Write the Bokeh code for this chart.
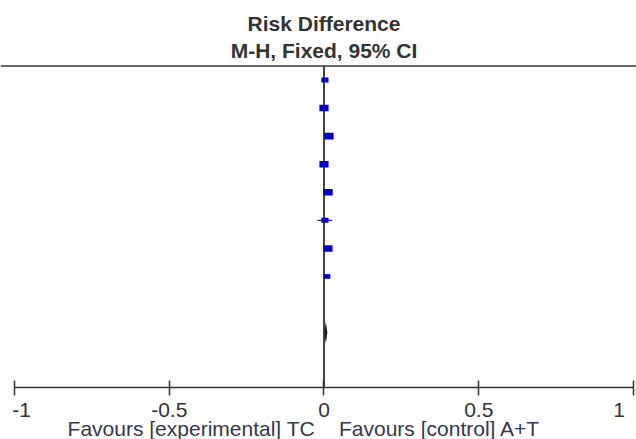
from bokeh.plotting import figure
from bokeh.models import Range1d, LinearAxis, FixedTicker, Label, Span, ColumnDataSource
from bokeh.embed import file_html
from bokeh.resources import INLINE
import math

# ---- data ----
study_rows = [1, 2, 3, 4, 5, 6, 7, 8]
risk_diff = [0.003, 0.000, 0.016, 0.000, 0.013, 0.003, 0.013, 0.010]
ci_low = [-0.006, -0.012, 0.004, -0.012, 0.002, -0.021, 0.001, 0.002]
ci_high = [0.012, 0.012, 0.028, 0.012, 0.024, 0.027, 0.025, 0.018]
weights = [9.0, 14.5, 15.5, 14.5, 15.5, 9.0, 14.5, 7.5]

total_row = 10
total_rd = 0.006
total_low = 0.000
total_high = 0.011

tick_values = [-1, -0.5, 0, 0.5, 1]
tick_labels = ["-1", "-0.5", "0", "0.5", "1"]

title_lines = ["Risk Difference", "M-H, Fixed, 95% CI"]
favours_left = "Favours [experimental] TC"
favours_right = "Favours [control] A+T"

FONT = "Liberation Sans"
TEXT_COLOR = "#333333"

AXIS_ROW = 11.956   # row coordinate where the x axis is drawn
HEADER_ROW = 0.5    # row coordinate of the header rule

p = figure(width=636, height=439,
           x_range=Range1d(-1.04523, 1.00969),
           y_range=Range1d(13.808, -1.831),
           x_axis_type=None, y_axis_type=None,
           output_backend="svg", toolbar_location=None,
           min_border=0)
p.outline_line_color = None
p.xgrid.visible = False
p.ygrid.visible = False
p.background_fill_color = "white"
p.border_fill_color = "white"

# x axis, drawn at a fixed row inside the frame
ax = LinearAxis(ticker=FixedTicker(ticks=tick_values), bounds=(-1, 1),
                fixed_location=AXIS_ROW)
ax.axis_line_color = "#333333"
ax.axis_line_width = 1.5
ax.major_tick_line_color = "#333333"
ax.major_tick_line_width = 1.5
ax.major_tick_in = 7
ax.major_tick_out = 8
ax.minor_tick_line_color = None
ax.major_label_standoff = 2
ax.major_label_text_font = FONT
ax.major_label_text_font_size = "21px"
ax.major_label_text_color = TEXT_COLOR
overrides = {v: l for v, l in zip(tick_values, tick_labels)}
overrides[tick_values[0]] = "\u00a0\u00a0" + tick_labels[0]
overrides[tick_values[-1]] = tick_labels[-1] + "\u00a0\u00a0"
ax.major_label_overrides = overrides
p.add_layout(ax, "below")

# header rule and zero line
p.add_layout(Span(location=HEADER_ROW, dimension="width", line_color="#333333", line_width=1.5))
p.segment(x0=[0], y0=[HEADER_ROW], x1=[0], y1=[AXIS_ROW], line_color="#444444", line_width=2)

# confidence intervals and weighted boxes
src = ColumnDataSource(dict(
    y=study_rows, rd=risk_diff, lo=ci_low, hi=ci_high,
    w=[2.4 * math.sqrt(v) for v in weights],
    h=[1.7 * math.sqrt(v) for v in weights],
))
p.segment(x0="lo", y0="y", x1="hi", y1="y", source=src, line_color="black", line_width=1)
p.rect(x="rd", y="y", width="w", height="h", width_units="screen", height_units="screen",
       source=src, fill_color="#0000CC", line_color=None)

# pooled diamond
dh = 0.39
p.patch(x=[total_low, total_rd, total_high, total_rd],
        y=[total_row, total_row - dh, total_row, total_row + dh],
        fill_color="#222222", line_color=None)

# header titles
for text, yy in zip(title_lines, [-1.012, -0.05]):
    p.add_layout(Label(x=0, y=yy, text=text, text_align="center", text_baseline="middle",
                       text_font=FONT, text_font_size="21px", text_font_style="bold",
                       text_color=TEXT_COLOR))

# favours labels
p.add_layout(Label(x=0, y=13.42, x_offset=-9, text=favours_left, text_align="right",
                   text_baseline="middle", text_font=FONT, text_font_size="21px",
                   text_color="#2f3a4f"))
p.add_layout(Label(x=0, y=13.42, x_offset=15, text=favours_right, text_align="left",
                   text_baseline="middle", text_font=FONT, text_font_size="21px",
                   text_color="#2f3a4f"))

open("out.html", "w").write(file_html(p, INLINE))
